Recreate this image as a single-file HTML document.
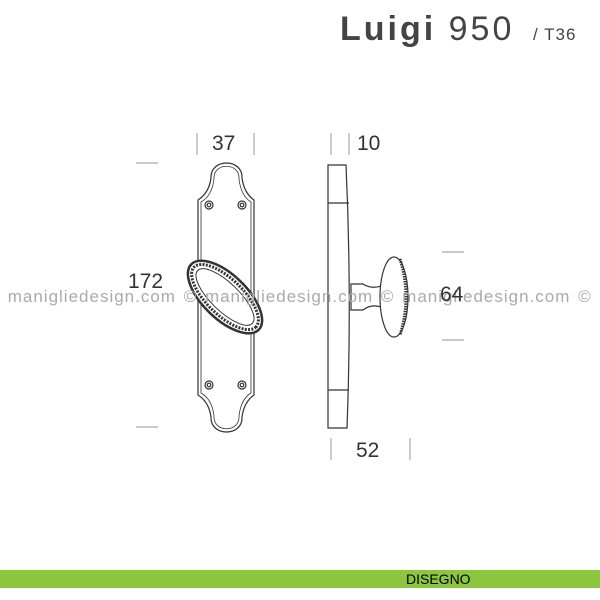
<!DOCTYPE html>
<html><head><style>
body{margin:0;width:600px;height:600px;background:#fff;overflow:hidden;position:relative;font-family:"Liberation Sans",sans-serif}
.t{position:absolute;color:#333}
</style></head><body>
<svg width="600" height="600" style="position:absolute;left:0;top:0">
<g fill="none" stroke="#333" stroke-width="1.2">
<path d="M211,178 C210,158 243,158 242,178 Q244,193 254,200 L254,395 Q244,402 242,417 C243,437 210,437 211,417 Q209,402 198,395 L198,200 Q209,193 211,178 Z" fill="#fff"/>
<path d="M214,179 C213,162 240,162 239,179 Q241,196 251,202 L251,393 Q241,399 239,416 C240,433 213,433 214,416 Q212,399 201,393 L201,202 Q212,196 214,179 Z" stroke-width="0.8"/>
<circle cx="209" cy="205" r="4"/><circle cx="209" cy="205" r="1.8"/>
<circle cx="242" cy="205" r="4"/><circle cx="242" cy="205" r="1.8"/>
<circle cx="209" cy="385" r="4"/><circle cx="209" cy="385" r="1.8"/>
<circle cx="242" cy="385" r="4"/><circle cx="242" cy="385" r="1.8"/>
<g transform="rotate(44 225 297)">
<ellipse cx="225" cy="297" rx="47" ry="22" fill="#fff" stroke-width="2.5"/>
<ellipse cx="225" cy="297" rx="43" ry="18" stroke-dasharray="2 1.3" stroke-width="3"/>
<ellipse cx="225" cy="297" rx="38" ry="14" stroke-width="1"/>
</g>
<path d="M328,165 L346,165 Q352,296 347,428 L328,428 Z" fill="#fff"/>
<line x1="328" y1="203" x2="349" y2="203"/><line x1="328" y1="390" x2="349" y2="390"/>
<path d="M351,284 L363,284 Q372,290 384,285 L384,308 Q372,303 363,310 L351,310 Z" fill="#fff"/>
<ellipse cx="394" cy="297" rx="14" ry="40" fill="#fff"/>
<path d="M400,259 Q412,297 400,335" stroke-width="3" stroke-dasharray="1.5 1"/>
<line x1="197" y1="133" x2="197" y2="155" stroke="#aaa"/><line x1="254" y1="133" x2="254" y2="155" stroke="#aaa"/>
<line x1="331" y1="133" x2="331" y2="155" stroke="#aaa"/><line x1="349" y1="133" x2="349" y2="155" stroke="#aaa"/>
<line x1="136" y1="163" x2="158" y2="163" stroke="#aaa"/><line x1="136" y1="427" x2="158" y2="427" stroke="#aaa"/>
<line x1="442" y1="252" x2="464" y2="252" stroke="#aaa"/><line x1="442" y1="340" x2="464" y2="340" stroke="#aaa"/>
<line x1="331" y1="438" x2="331" y2="460" stroke="#aaa"/><line x1="410" y1="438" x2="410" y2="460" stroke="#aaa"/>
</g>
<rect x="0" y="570" width="600" height="18" fill="#8cc63f"/>
</svg>
<div class="t" style="left:0;top:287px;font-size:17px;color:#aaa;white-space:nowrap;letter-spacing:1px;word-spacing:2px">&nbsp;manigliedesign.com © manigliedesign.com © manigliedesign.com ©</div>
<div class="t" style="left:340px;top:10px;font-size:34px;color:#444;white-space:nowrap;letter-spacing:3px"><b>Luigi</b> 950</div>
<div class="t" style="left:533px;top:25px;font-size:17px;color:#444;letter-spacing:1px">/ T36</div>
<div class="t" style="left:212px;top:132px;font-size:21px">37</div>
<div class="t" style="left:357px;top:132px;font-size:21px">10</div>
<div class="t" style="left:128px;top:270px;font-size:21px">172</div>
<div class="t" style="left:440px;top:283px;font-size:21px">64</div>
<div class="t" style="left:356px;top:439px;font-size:21px">52</div>
<div class="t" style="left:406px;top:571px;font-size:14px;color:#000">DISEGNO</div>
</body></html>
